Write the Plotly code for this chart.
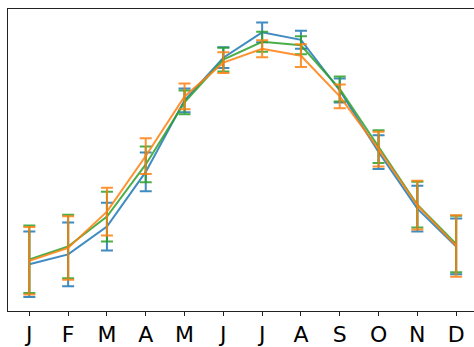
import plotly.graph_objects as go

months = ["J", "F", "M", "A", "M", "J", "J", "A", "S", "O", "N", "D"]
x_idx = list(range(12))

blue_vals = [4.7, 5.7, 8.5, 14.0, 21.2, 25.5, 28.05, 27.3, 22.2, 16.0, 10.3, 6.5]
blue_err = [3.3, 3.2, 2.4, 1.95, 1.2, 1.05, 1.0, 0.9, 1.2, 1.7, 2.3, 2.8]
orange_vals = [5.05, 6.35, 10.0, 15.6, 21.6, 25.0, 26.4, 25.7, 21.6, 16.3, 10.65, 6.55]
orange_err = [3.4, 3.2, 2.4, 1.8, 1.3, 1.05, 0.85, 1.15, 1.2, 1.75, 2.45, 3.1]
green_vals = [5.2, 6.5, 9.5, 14.75, 21.0, 25.3, 27.1, 26.75, 22.35, 16.55, 10.7, 6.75]
green_err = [3.4, 3.2, 2.5, 1.8, 1.2, 1.2, 1.0, 0.9, 1.25, 1.65, 2.3, 2.85]

series = [
    (blue_vals, blue_err, "rgba(31,119,180,0.85)"),
    (green_vals, green_err, "rgba(44,160,44,0.85)"),
    (orange_vals, orange_err, "rgba(255,127,14,0.85)"),
]

fig = go.Figure()
for vals, err, col in series:
    fig.add_trace(go.Scatter(
        x=x_idx, y=vals, mode="lines",
        line=dict(color=col, width=2),
        error_y=dict(type="data", array=err, visible=True,
                     color=col, thickness=2, width=6),
        showlegend=False,
    ))

fig.update_layout(
    width=474, height=347,
    margin=dict(l=8, r=0, t=9, b=34),
    paper_bgcolor="white", plot_bgcolor="white",
    xaxis=dict(
        range=[-0.55, 11.46], tickmode="array", tickvals=x_idx, ticktext=months,
        showgrid=False, zeroline=False,
        showline=True, linecolor="#222", linewidth=1, mirror=True,
        ticks="outside", ticklen=4, tickcolor="#222", tickwidth=1,
        tickfont=dict(family="DejaVu Sans", size=22, color="black"),
    ),
    yaxis=dict(
        range=[0, 30.4], showgrid=False, zeroline=False,
        showline=True, linecolor="#222", linewidth=1,
        showticklabels=False, ticks="",
    ),
)

fig.write_html("out.html")
